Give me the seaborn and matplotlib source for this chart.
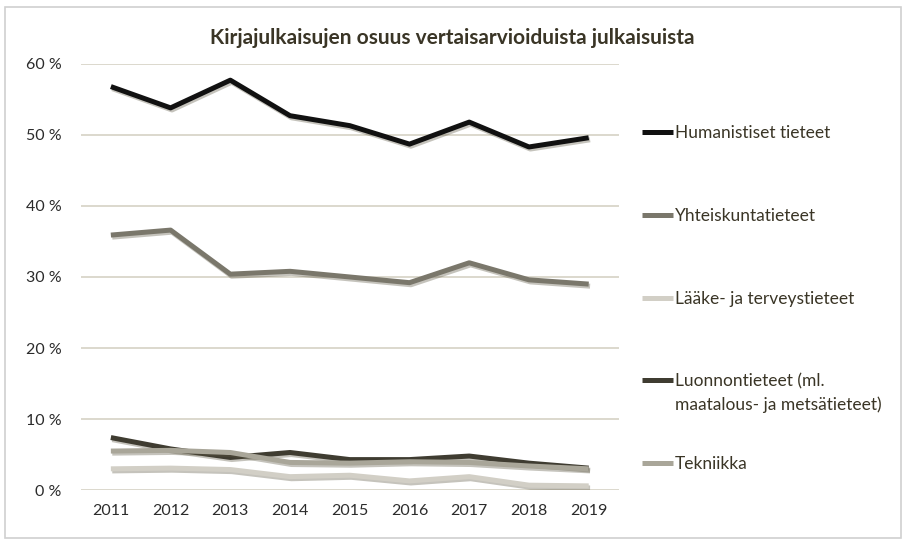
"""Kirjajulkaisujen osuus vertaisarvioiduista julkaisuista, 2011-2019."""

import matplotlib

matplotlib.use("Agg")
import matplotlib.patheffects as pe
import matplotlib.pyplot as plt
import pandas as pd
import seaborn as sns
from matplotlib.patches import Rectangle
from matplotlib.ticker import FuncFormatter

years = [2011, 2012, 2013, 2014, 2015, 2016, 2017, 2018, 2019]
humanistiset = [56.8, 53.8, 57.7, 52.7, 51.3, 48.7, 51.8, 48.3, 49.6]
yhteiskunta = [35.9, 36.6, 30.4, 30.8, 30.0, 29.2, 32.0, 29.6, 29.0]
laake = [3.0, 3.1, 2.9, 1.9, 2.1, 1.3, 1.9, 0.7, 0.6]
luonnon = [7.4, 5.8, 4.6, 5.3, 4.3, 4.3, 4.8, 3.8, 3.1]
tekniikka = [5.5, 5.6, 5.3, 3.9, 3.8, 4.0, 3.9, 3.4, 3.0]

series = {
    "Humanistiset tieteet": humanistiset,
    "Yhteiskuntatieteet": yhteiskunta,
    "Lääke- ja terveystieteet": laake,
    "Luonnontieteet (ml. maatalous- ja metsätieteet)": luonnon,
    "Tekniikka": tekniikka,
}
colors = ["#111111", "#7a776b", "#d2cfc6", "#3f3c31", "#a9a699"]

df = pd.concat(
    [pd.DataFrame({"vuosi": years, "osuus": vals, "ala": name})
     for name, vals in series.items()],
    ignore_index=True,
)

sns.set_style("white")
plt.rcParams["font.family"] = ["Lato", "DejaVu Sans"]
text_color = "#2b2b2b"
legend_color = "#3a3526"
legend_size = 12.5

fig = plt.figure(figsize=(9.05, 5.41), dpi=100)
ax = fig.add_axes([0.0895, 0.094, 0.594, 0.788])

sns.lineplot(
    data=df, x="vuosi", y="osuus", hue="ala", palette=colors,
    linewidth=3.6, sort=False, ax=ax, legend=True,
)
for line in ax.get_lines():
    line.set_solid_capstyle("butt")
    line.set_path_effects([
        pe.SimpleLineShadow(offset=(1, -1.5), shadow_color="#5a5540", alpha=0.35),
        pe.Normal(),
    ])

ax.set_xlim(2010.5, 2019.5)
ax.set_ylim(0, 60)
ax.set_yticks(range(0, 61, 10))
ax.set_xticks(years)
ax.yaxis.set_major_formatter(FuncFormatter(lambda v, _: f"{v:.0f} %"))
ax.grid(axis="y", color="#d6d2c5", linewidth=1.2)
ax.set_axisbelow(True)
for s in ax.spines.values():
    s.set_visible(False)
ax.tick_params(axis="both", length=0, labelsize=11.5, colors=text_color, pad=10)
ax.tick_params(axis="y", pad=14)
ax.set_xlabel("")
ax.set_ylabel("")

fig.text(0.5, 0.93, "Kirjajulkaisujen osuus vertaisarvioiduista julkaisuista",
         ha="center", va="center", fontsize=15, fontweight="bold",
         color="#3a3526")

# legend: the long label wraps after its first line, handle stays on line one
handles, labels = ax.get_legend_handles_labels()
split_at = "(ml."
labels = [lab.split(split_at)[0] + split_at if split_at in lab else lab
          for lab in labels]
leg = ax.legend(
    handles, labels, loc="upper left", bbox_to_anchor=(0.692, 0.798),
    bbox_transform=fig.transFigure, frameon=False, fontsize=legend_size,
    handlelength=1.8, handletextpad=0.1, labelspacing=3.85,
    labelcolor=legend_color,
)
for h in leg.get_lines():
    h.set_path_effects([])

fig.canvas.draw()
wrapped = [t for t in leg.get_texts() if t.get_text().endswith(split_at)][0]
bb = wrapped.get_window_extent().transformed(fig.transFigure.inverted())
fig.text(bb.x0, bb.y0 - 0.012, "maatalous- ja metsätieteet)", ha="left", va="top",
         fontsize=legend_size, color=legend_color)

fig.patches.append(Rectangle((0.006, 0.005), 0.99, 0.982, transform=fig.transFigure,
                             fill=False, edgecolor="#d0d0d0", linewidth=1.2))

fig.savefig("out.png", dpi=100)
